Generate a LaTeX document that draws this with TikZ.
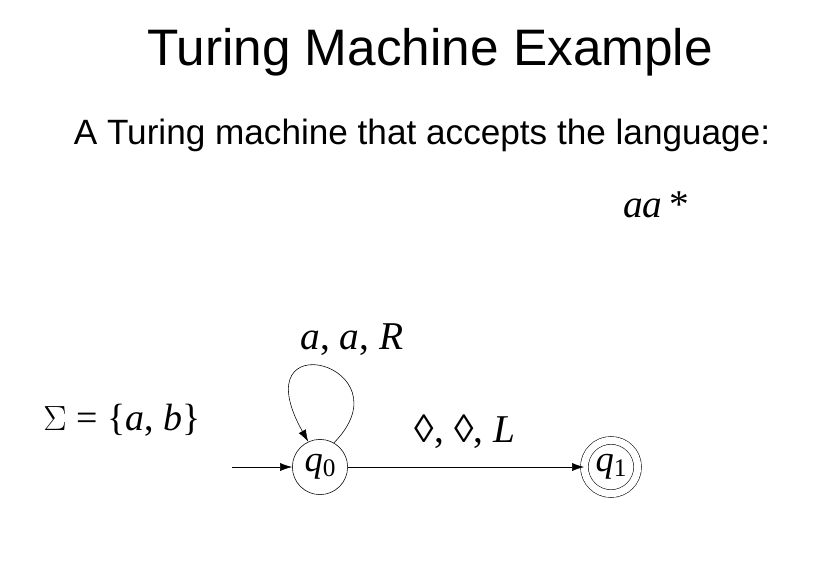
\documentclass[tikz,border=0pt]{standalone}
\usepackage{fontspec}
\setmainfont{Liberation Serif}
\newfontfamily\arial{Liberation Sans}
\usetikzlibrary{arrows.meta,positioning}

\begin{document}
\begin{tikzpicture}[x=0.025cm,y=-0.025cm,
	state/.style={circle,draw,minimum size=1.38cm,inner sep=0pt,font=\fontsize{26}{28}\selectfont\itshape},
	edgelabel/.style={font=\fontsize{28}{30}\selectfont},
	tip/.style={-{Latex[length=3mm,width=2mm]}}]
	\useasboundingbox (0,0) rectangle (829,560);

	% Title and text
	\node (title) at (430,52) {\arial\fontsize{36.5}{40}\selectfont Turing Machine Example};
	\node (intro) at (422,135) {\arial\fontsize{25}{28}\selectfont A Turing machine that accepts the language:};
	\node (lang) at (656,205) {\fontsize{28}{30}\selectfont\itshape aa\,\upshape*};
	\node (sigma) at (122,420) {\fontsize{27}{28}\selectfont $\Sigma$ = \{\textit{a}, \textit{b}\}};

	% States
	\node[state] (q0) at (320,467) {q\raisebox{-0.3ex}{\fontsize{18}{20}\selectfont\upshape 0}};
	\node[state,minimum size=1.33cm,double,double distance=0.18cm] (q1) at (611,467) {q\raisebox{-0.3ex}{\fontsize{18}{20}\selectfont\upshape 1}};
	\coordinate (start) at (232,467);

	% Transitions
	\draw[tip] (start) -- (q0);
	\draw[tip] (q0.60) .. controls (410,365) and (240,320) .. (q0.115);
	\draw[tip] (q0) -- (q1);
	\node[edgelabel] (loop) at (352,340) {\textit{a}, \textit{a}, \textit{R}};
	\node[edgelabel] (blank) at (465,432) {◊, ◊, \textit{L}};
\end{tikzpicture}
\end{document}
